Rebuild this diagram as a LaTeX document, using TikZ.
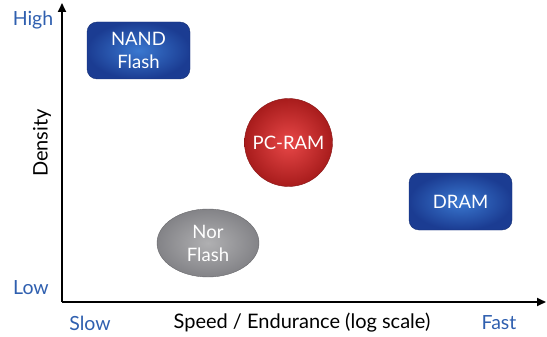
\documentclass[tikz,border=0pt]{standalone}
\usepackage{fontspec}
\setmainfont{Lato}
\usetikzlibrary{shapes.geometric,arrows.meta}
\definecolor{axisblue}{HTML}{2F5FAF}
\definecolor{boxin}{HTML}{3A78D0}
\definecolor{boxout}{HTML}{1B3C92}
\definecolor{redin}{HTML}{E84848}
\definecolor{redout}{HTML}{A81C1C}
\definecolor{greyin}{HTML}{B0B0B2}
\definecolor{greyout}{HTML}{838387}
\tikzset{
  axisline/.style={line width=2pt,-{Triangle[length=9pt,width=8pt]}},
  axislabel/.style={text=axisblue,font=\fontsize{19.5}{22}\selectfont},
  titlelabel/.style={text=black,font=\fontsize{20}{22}\selectfont},
  memtext/.style={text=white,font=\fontsize{18.5}{23}\selectfont,align=center},
  bluebox/.style={rectangle,rounded corners=10pt,minimum width=103pt,minimum height=57pt,
    inner color=boxin,outer color=boxout,draw=boxout!80!black,line width=0.4pt,memtext},
}
\begin{document}
\begin{tikzpicture}[x=1pt,y=-1pt]
\useasboundingbox (0,0) rectangle (547,337);
% axes
\coordinate (origin) at (62,302);
\coordinate (ytip) at (62,3);
\coordinate (xtip) at (546,302);
\draw[axisline] (origin) -- (ytip);
\draw[axisline] (origin) -- (xtip);
% axis end labels
\node[axislabel] (high) at (33,20) {High};
\node[axislabel] (low) at (31,288) {Low};
\node[axislabel] (slow) at (90,323) {Slow};
\node[axislabel] (fast) at (499,323) {Fast};
\node[titlelabel] (xtitle) at (302,323) {Speed / Endurance (log scale)};
\node[titlelabel,rotate=90] (ytitle) at (42,143) {Density};
% memory technologies
\node[bluebox] (nand) at (138.5,50.5) {NAND\\Flash};
\node[bluebox] (dram) at (460.5,201.5) {DRAM};
\node[circle,minimum size=88pt,inner color=redin,outer color=redout,draw=redout!80!black,line width=0.4pt,memtext] (pcram) at (288.5,142.5) {PC-RAM};
\node[ellipse,minimum width=102pt,minimum height=68pt,inner sep=0pt,inner color=greyin,outer color=greyout,draw=greyout!80!black,line width=0.4pt,memtext] (nor) at (208,243) {Nor\\Flash};
\end{tikzpicture}
\end{document}
